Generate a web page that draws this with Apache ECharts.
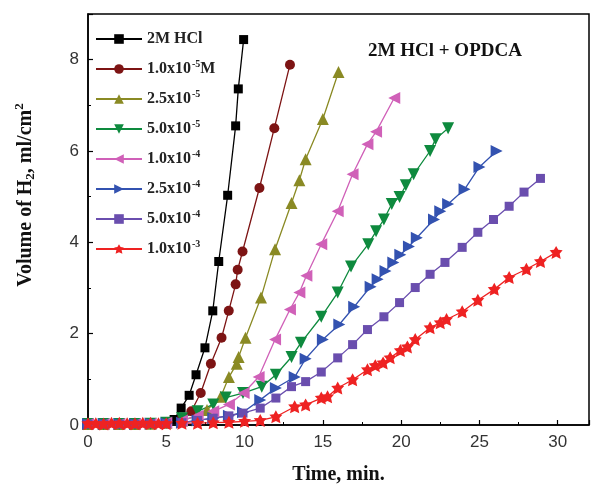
<!DOCTYPE html>
<html>
<head>
<meta charset="utf-8">
<script src="https://cdn.jsdelivr.net/npm/echarts@6/dist/echarts.min.js"></script>
<style>html,body{margin:0;padding:0;background:#fff}#c{width:592px;height:492px}</style>
</head>
<body>
<div id="c"></div>
<script>
// ---- data (time in min, volume of H2 in ml/cm2) ----
const seriesNames = ['2M HCl', '1.0x10-5M', '2.5x10-5', '5.0x10-5', '1.0x10-4', '2.5x10-4', '5.0x10-4', '1.0x10-3'];

const hcl = [[0,0.02],[1,0.02],[2,0.02],[3,0.02],[4,0.03],[5,0.05],[5.5,0.12],[5.95,0.37],[6.46,0.65],[6.9,1.1],[7.47,1.69],[7.97,2.5],[8.35,3.58],[8.92,5.03],[9.43,6.55],[9.6,7.36],[9.94,8.44]];
const c1e5 = [[0,0.02],[1,0.02],[2,0.02],[3,0.02],[4,0.03],[5,0.05],[6,0.15],[6.6,0.3],[7.2,0.7],[7.85,1.34],[8.53,1.91],[8.99,2.5],[9.43,3.08],[9.56,3.4],[9.87,3.8],[10.95,5.19],[11.9,6.5],[12.9,7.89]];
const c25e5 = [[0,0.02],[1,0.02],[2,0.02],[3,0.02],[4,0.03],[5,0.05],[6,0.1],[7,0.2],[7.6,0.33],[8.48,0.62],[9,1.05],[9.5,1.34],[9.62,1.49],[10.06,1.91],[11.05,2.79],[11.95,3.85],[13,4.86],[13.5,5.36],[13.9,5.82],[15,6.7],[16,7.73]];
const c5e5 = [[0,0.02],[1,0.02],[2,0.02],[3,0.02],[4,0.03],[5,0.05],[6,0.15],[7,0.3],[8,0.45],[8.8,0.6],[9.9,0.7],[11.1,0.84],[12,1.1],[13,1.49],[13.6,1.8],[14.9,2.37],[15.95,2.9],[16.8,3.47],[17.9,3.96],[18.4,4.24],[18.9,4.5],[19.4,4.84],[19.9,4.99],[20.3,5.25],[20.8,5.49],[21.85,6.0],[22.2,6.26],[23.0,6.5]];
const c1e4 = [[0,0.02],[1,0.02],[2,0.02],[3,0.02],[4,0.03],[5,0.05],[6,0.1],[7,0.2],[8,0.3],[9,0.45],[9.94,0.7],[10.9,1.05],[11.95,1.87],[12.9,2.53],[13.5,2.9],[13.95,3.27],[14.9,3.96],[15.95,4.68],[16.9,5.49],[17.85,6.15],[18.4,6.42],[19.56,7.16]];
const c25e4 = [[0,0.02],[1,0.02],[2,0.02],[3,0.02],[4,0.03],[5,0.04],[6,0.05],[7,0.1],[8,0.15],[9,0.2],[9.9,0.28],[11,0.55],[12,0.81],[13.2,1.05],[13.9,1.45],[15,1.87],[16.05,2.2],[17,2.59],[18.05,3.03],[18.5,3.19],[19,3.37],[19.5,3.56],[19.95,3.73],[20.5,3.91],[21,4.1],[22.1,4.5],[22.5,4.68],[23,4.84],[24.05,5.16],[25,5.65],[26.1,6.0]];
const c5e4 = [[0,0.02],[1,0.02],[2,0.02],[3,0.02],[4,0.03],[5,0.03],[6,0.05],[7,0.1],[8,0.15],[9,0.2],[9.9,0.26],[11,0.37],[12,0.59],[13,0.84],[13.9,0.95],[14.9,1.16],[15.95,1.47],[16.9,1.76],[17.85,2.09],[18.9,2.37],[19.9,2.68],[20.9,3.01],[21.85,3.3],[22.8,3.56],[23.9,3.89],[24.9,4.22],[25.9,4.5],[26.9,4.79],[27.85,5.1],[28.9,5.4]];
const c1e3 = [[0,0.03],[0.5,0.03],[1,0.02],[1.5,0.04],[2,0.04],[2.5,0.03],[3,0.03],[3.5,0.04],[4,0.04],[4.5,0.03],[5,0.03],[6,0.04],[7,0.04],[8,0.05],[9,0.06],[10,0.08],[11,0.1],[12,0.18],[13.2,0.4],[13.9,0.44],[14.9,0.59],[15.3,0.62],[15.95,0.81],[16.9,0.99],[17.85,1.21],[18.35,1.3],[18.85,1.36],[19.3,1.47],[19.95,1.63],[20.4,1.71],[20.9,1.87],[21.85,2.13],[22.5,2.24],[22.9,2.31],[23.9,2.48],[24.9,2.73],[25.95,2.97],[26.9,3.23],[28.0,3.41],[28.9,3.58],[29.9,3.78]];

const xTicks = [0, 5, 10, 15, 20, 25, 30];
const yTicks = [0, 2, 4, 6, 8];

// ---- styling ----
const star = 'path://M50,0 L66,28 L98,31 L76,55 L84,92 L50,76 L16,92 L24,55 L2,31 L34,28 Z';
const styles = [
  {color:'#000000', symbol:'rect', size:9, rot:0},
  {color:'#7d1414', symbol:'circle', size:10, rot:0},
  {color:'#8a8a24', symbol:'triangle', size:12, rot:0},
  {color:'#0e8a3e', symbol:'triangle', size:12, rot:180},
  {color:'#d060b8', symbol:'triangle', size:12, rot:90},
  {color:'#3352b0', symbol:'triangle', size:12, rot:-90},
  {color:'#6a4eae', symbol:'rect', size:9, rot:0},
  {color:'#ee2222', symbol:star, size:13, rot:0}
];
const datasets = [hcl, c1e5, c25e5, c5e5, c1e4, c25e4, c5e4, c1e3];
const legendRich = {
  '2M HCl': '{b|2M HCl}',
  '1.0x10-5M': '{b|1.0x10}{s|-5}{b|M}',
  '2.5x10-5': '{b|2.5x10}{s|-5}',
  '5.0x10-5': '{b|5.0x10}{s|-5}',
  '1.0x10-4': '{b|1.0x10}{s|-4}',
  '2.5x10-4': '{b|2.5x10}{s|-4}',
  '5.0x10-4': '{b|5.0x10}{s|-4}',
  '1.0x10-3': '{b|1.0x10}{s|-3}'
};

const series = seriesNames.map((n, i) => ({
  name: n,
  type: 'line',
  data: datasets[i],
  symbol: styles[i].symbol,
  symbolSize: styles[i].size,
  symbolRotate: styles[i].rot,
  showAllSymbol: true,
  itemStyle: {color: styles[i].color},
  lineStyle: {color: styles[i].color, width: 1.3},
  animation: false
}));

const serif = '"Liberation Serif", "Times New Roman", serif';
const sans = '"Liberation Sans", Arial, sans-serif';

const chart = echarts.init(document.getElementById('c'), null, {renderer: 'canvas'});
chart.setOption({
  backgroundColor: '#fff',
  animation: false,
  grid: {left: 88, right: -2, top: 14, bottom: 67, show: true, borderColor: '#000', borderWidth: 1.5},
  title: {
    text: '2M HCl + OPDCA', left: 440, top: 37, textAlign: 'center',
    textStyle: {fontFamily: serif, fontWeight: 'bold', fontSize: 19, color: '#111'}
  },
  legend: {
    orient: 'vertical', left: 90, top: 26, itemWidth: 46, itemHeight: 12, itemGap: 12,
    data: seriesNames,
    formatter: n => legendRich[n],
    textStyle: {
      color: '#222',
      rich: {
        b: {fontFamily: serif, fontWeight: 'bold', fontSize: 16, color: '#222'},
        s: {fontFamily: serif, fontWeight: 'bold', fontSize: 10, color: '#222', padding: [0, 0, 10, 1]}
      }
    }
  },
  xAxis: {
    type: 'value', min: 0, max: 32, interval: 5,
    name: 'Time, min.', nameLocation: 'middle', nameGap: 40,
    nameTextStyle: {fontFamily: serif, fontWeight: 'bold', fontSize: 20, color: '#111'},
    axisLine: {lineStyle: {color: '#000', width: 1.5}},
    axisTick: {inside: true, length: 5, lineStyle: {color: '#000', width: 1.2}},
    minorTick: {show: true, splitNumber: 2, length: 3, lineStyle: {color: '#000', width: 1}},
    splitLine: {show: false},
    axisLabel: {
      fontFamily: sans, fontSize: 17, color: '#333', margin: 9,
      formatter: v => xTicks.indexOf(v) >= 0 ? String(v) : ''
    }
  },
  yAxis: {
    type: 'value', min: 0, max: 9, interval: 2,
    axisLine: {show: true, lineStyle: {color: '#000', width: 1.5}},
    axisTick: {show: true, inside: true, length: 5, lineStyle: {color: '#000', width: 1.2}},
    minorTick: {show: true, splitNumber: 2, length: 3, lineStyle: {color: '#000', width: 1}},
    splitLine: {show: false},
    axisLabel: {
      fontFamily: sans, fontSize: 17, color: '#333', margin: 9,
      formatter: v => yTicks.indexOf(v) >= 0 ? String(v) : ''
    }
  },
  graphic: [{
    type: 'text', x: 26, y: 195, rotation: Math.PI / 2,
    style: {
      text: '{b|Volume of H}{sub|2}{b|, ml/cm}{sup|2}',
      align: 'center', verticalAlign: 'middle',
      rich: {
        b: {fontFamily: serif, fontWeight: 'bold', fontSize: 20, fill: '#111'},
        sub: {fontFamily: serif, fontWeight: 'bold', fontSize: 13, fill: '#111', padding: [10, 0, 0, 0]},
        sup: {fontFamily: serif, fontWeight: 'bold', fontSize: 13, fill: '#111', padding: [0, 0, 12, 0]}
      }
    }
  }],
  series: series
});
</script>
</body>
</html>
